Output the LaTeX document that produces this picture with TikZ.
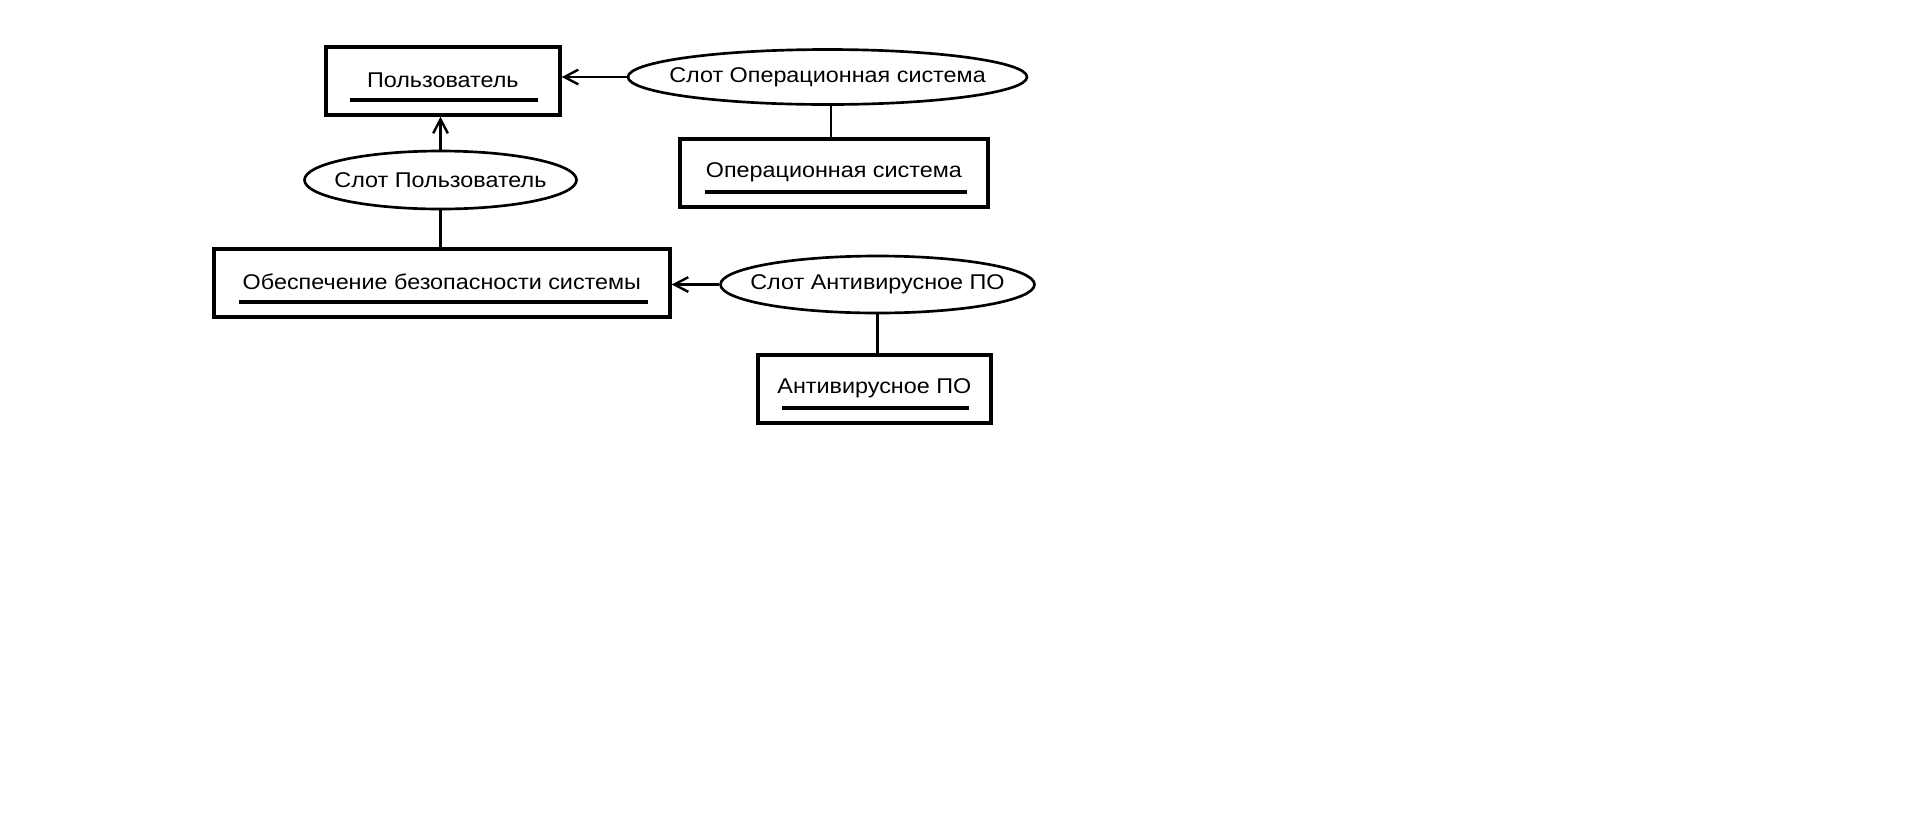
\documentclass[tikz,border=0pt]{standalone}
\usepackage{fontspec}
\setmainfont[FakeStretch=1.095]{Liberation Sans}
\usetikzlibrary{shapes.geometric,arrows.meta,calc}
\begin{document}
\begin{tikzpicture}[x=0.75pt,y=-0.75pt,
  every node/.style={font=\fontsize{16}{19}\selectfont},
  boxnode/.style={draw,line width=2.8pt,rectangle,inner sep=0pt,minimum height=68*0.75pt,anchor=north west},
  slotnode/.style={draw,line width=2pt,ellipse,inner sep=0pt},
  labelnode/.style={inner sep=0pt},
  uline/.style={line width=3pt},
  conn/.style={line width=2pt},
  arr/.style={conn,-{Straight Barb[length=10.5pt,width=11pt,line width=1.8pt]}}]
\useasboundingbox (0,0) rectangle (1914,819);
\fill[white] (0,0) rectangle (1914,819);
% boxes
\node[boxnode,minimum width=234*0.75pt] (U) at (324,45) {};
\node[boxnode,minimum width=308*0.75pt] (OS) at (678,137) {};
\node[boxnode,minimum width=456*0.75pt] (S) at (212,247) {};
\node[boxnode,minimum width=233*0.75pt] (AV) at (756,353) {};
% labels
\node[labelnode] (Ut) at ($(U.center)+(0,-1)$) {Пользователь};
\node[labelnode] (OSt) at ($(OS.center)+(0,-1)$) {Операционная система};
\node[labelnode] (St) at ($(S.center)+(0,-1)$) {Обеспечение безопасности системы};
\node[labelnode] (AVt) at ($(AV.center)+(0,-1)$) {Антивирусное ПО};
% underlines
\draw[uline] ($(U.south west)+(26,-17)$) -- ($(U.south east)+(-24,-17)$);
\draw[uline] ($(OS.south west)+(27,-17)$) -- ($(OS.south east)+(-23,-17)$);
\draw[uline] ($(S.south west)+(27,-17)$) -- ($(S.south east)+(-24,-17)$);
\draw[uline] ($(AV.south west)+(26,-17)$) -- ($(AV.south east)+(-24,-17)$);
% slots
\node[slotnode,minimum width=399*0.75pt,minimum height=55*0.75pt] (SOS) at (827.5,77) {};
\node[slotnode,minimum width=272*0.75pt,minimum height=58*0.75pt] (SU) at (440.5,180) {};
\node[slotnode,minimum width=314*0.75pt,minimum height=57*0.75pt] (SAV) at (877.5,284.5) {};
\node[labelnode] (SOSt) at (SOS.center) {Слот Операционная система};
\node[labelnode] (SUt) at (SU.center) {Слот Пользователь};
\node[labelnode] (SAVt) at (SAV.center) {Слот Антивирусное ПО};
% connectors
\draw[arr] (SOS.west) -- (SOS.west -| U.east);
\draw[conn] (OS.north -| 831,0) -- (831,0 |- SOS.south);
\draw[arr] (SU.north) -- (SU.north |- U.south);
\draw[conn] (SU.south) -- (SU.south |- S.north);
\draw[arr] (SAV.west) -- (SAV.west -| S.east);
\draw[conn] (SAV.south) -- (SAV.south |- AV.north);
\end{tikzpicture}
\end{document}
